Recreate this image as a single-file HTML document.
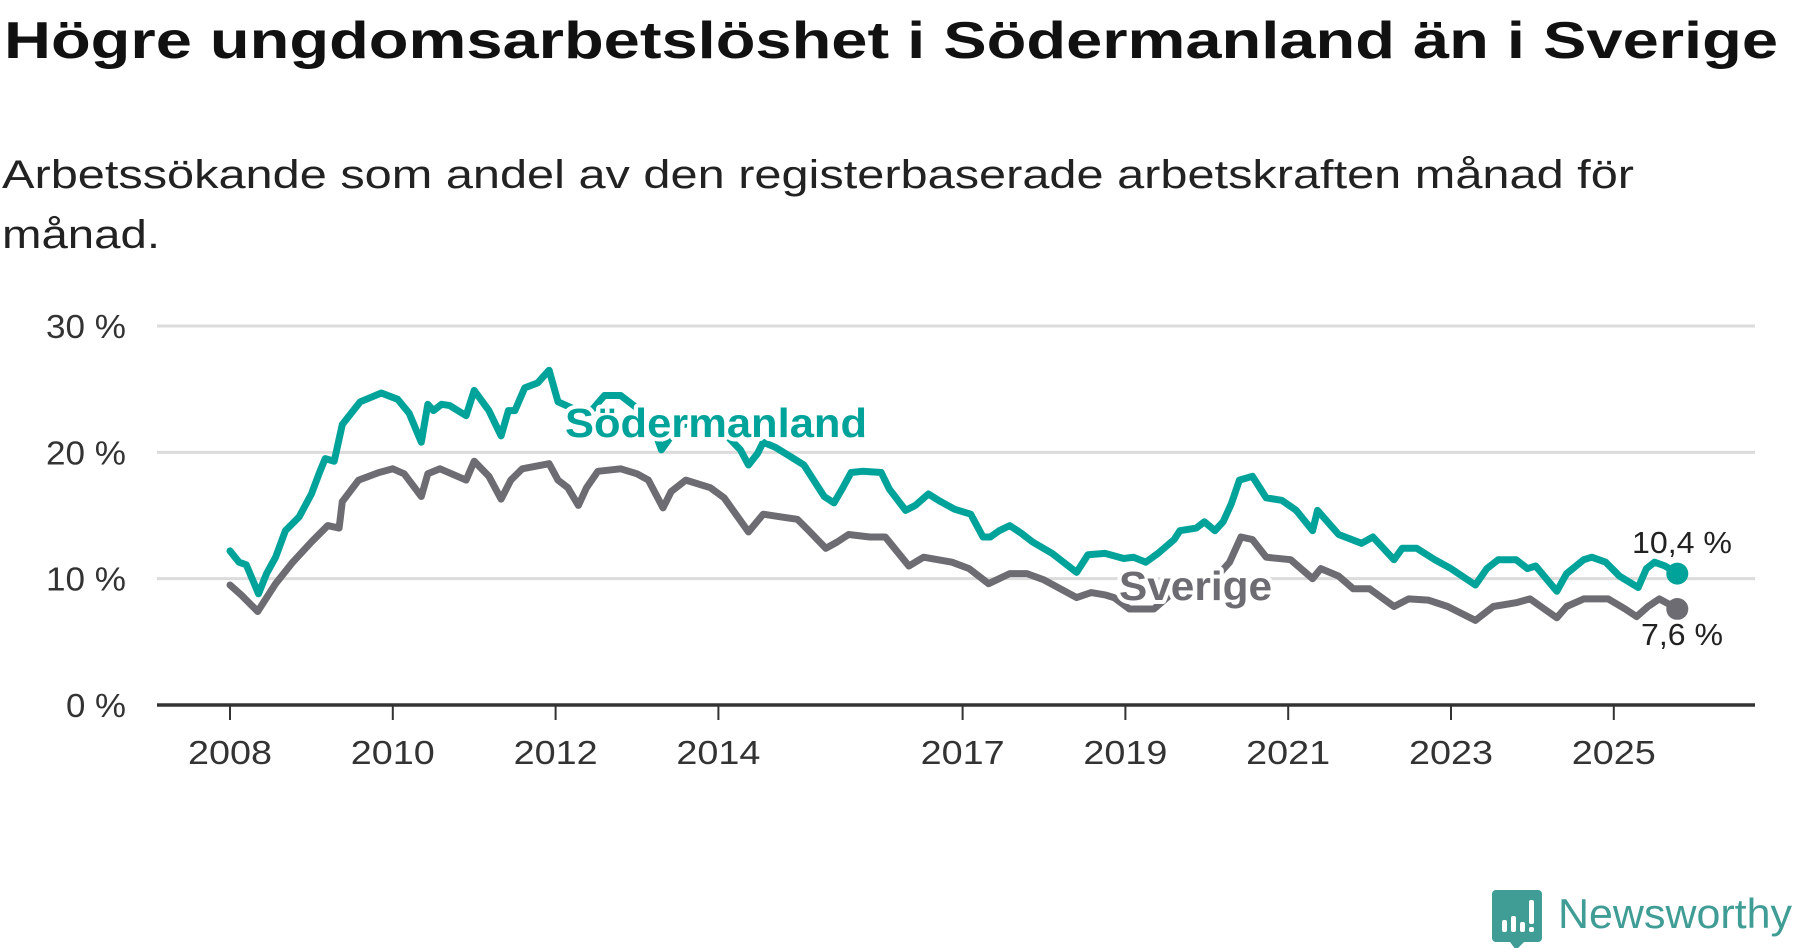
<!DOCTYPE html>
<html><head><meta charset="utf-8"><style>
html,body{margin:0;padding:0;background:#fff;}
svg{display:block;}
text{font-family:"Liberation Sans",sans-serif;}
</style></head><body>
<svg id="chart" width="1800" height="948" viewBox="0 0 1800 948">
<text x="4" y="58" font-size="52" font-weight="bold" fill="#111" textLength="1774" lengthAdjust="spacingAndGlyphs">Högre ungdomsarbetslöshet i Södermanland än i Sverige</text>
<text x="2" y="188" font-size="40" fill="#222" textLength="1632" lengthAdjust="spacingAndGlyphs">Arbetssökande som andel av den registerbaserade arbetskraften månad för</text>
<text x="2" y="248" font-size="40" fill="#222" textLength="158" lengthAdjust="spacingAndGlyphs">månad.</text>
<g id="grid"></g><g id="xaxis"></g><g id="lines"></g><g id="labels"></g>
<g>
<path d="M1496 890 h42 a4 4 0 0 1 4 4 v44 a4 4 0 0 1 -4 4 h-14 l-8 8 l-6 -8 h-14 a4 4 0 0 1 -4 -4 v-44 a4 4 0 0 1 4 -4z" fill="#3f9d95"/>
<rect x="1502" y="920" width="5" height="12" rx="2" fill="#fff"/>
<rect x="1511" y="916" width="5" height="16" rx="2" fill="#fff"/>
<rect x="1520" y="922" width="5" height="10" rx="2" fill="#fff"/>
<rect x="1529" y="900" width="5" height="24" rx="2" fill="#fff"/>
<rect x="1529" y="927" width="5" height="5" rx="2" fill="#fff"/>
<text x="1558" y="928" font-size="42" fill="#3f9d95" textLength="234" lengthAdjust="spacingAndGlyphs">Newsworthy</text>
</g>
</svg>
<script>
const yTicks=[0,10,20,30];
const yTickLabels=["0 %","10 %","20 %","30 %"];
const xTicks=[2008,2010,2012,2014,2017,2019,2021,2023,2025];
const sodT=[2008.0,2008.11,2008.2,2008.35,2008.45,2008.56,2008.68,2008.85,2009.0,2009.1,2009.17,2009.28,2009.38,2009.6,2009.86,2010.06,2010.2,2010.35,2010.43,2010.5,2010.6,2010.7,2010.9,2011.0,2011.18,2011.33,2011.42,2011.5,2011.62,2011.78,2011.92,2012.03,2012.2,2012.4,2012.6,2012.8,2013.0,2013.2,2013.3,2013.5,2013.7,2014.0,2014.27,2014.37,2014.48,2014.55,2014.7,2014.9,2015.05,2015.3,2015.42,2015.52,2015.63,2015.77,2016.0,2016.1,2016.3,2016.42,2016.58,2016.73,2016.9,2017.1,2017.25,2017.34,2017.45,2017.58,2017.72,2017.86,2018.1,2018.4,2018.54,2018.75,2018.98,2019.1,2019.25,2019.4,2019.6,2019.67,2019.87,2019.97,2020.1,2020.2,2020.3,2020.4,2020.56,2020.73,2020.92,2021.1,2021.3,2021.36,2021.62,2021.9,2022.04,2022.3,2022.4,2022.58,2022.8,2023.0,2023.3,2023.44,2023.58,2023.8,2023.94,2024.04,2024.3,2024.42,2024.63,2024.73,2024.9,2025.07,2025.3,2025.4,2025.5,2025.63,2025.78];
const sodV=[12.2,11.3,11.1,8.8,10.4,11.7,13.8,14.9,16.7,18.4,19.5,19.3,22.2,24.0,24.7,24.2,23.1,20.8,23.8,23.3,23.8,23.7,22.9,24.9,23.3,21.3,23.3,23.3,25.1,25.5,26.5,24.0,23.5,23.0,24.5,24.5,23.5,22.0,20.2,22.0,22.5,22.0,20.2,19.0,19.9,20.8,20.4,19.6,19.0,16.5,16.0,17.1,18.4,18.5,18.4,17.1,15.4,15.8,16.7,16.1,15.5,15.1,13.3,13.3,13.8,14.2,13.6,12.9,12.0,10.5,11.9,12.0,11.6,11.7,11.3,12.0,13.1,13.8,14.0,14.5,13.8,14.5,15.9,17.8,18.1,16.4,16.2,15.4,13.8,15.4,13.5,12.8,13.3,11.5,12.4,12.4,11.5,10.8,9.5,10.8,11.5,11.5,10.8,11.0,9.0,10.4,11.5,11.7,11.3,10.2,9.3,10.8,11.3,11.0,10.4];
const sveT=[2008.0,2008.14,2008.34,2008.45,2008.56,2008.77,2009.0,2009.2,2009.34,2009.38,2009.58,2009.83,2010.0,2010.14,2010.35,2010.43,2010.58,2010.9,2011.0,2011.18,2011.33,2011.45,2011.59,2011.92,2012.03,2012.15,2012.28,2012.38,2012.52,2012.8,2013.0,2013.14,2013.32,2013.42,2013.6,2013.9,2014.07,2014.18,2014.37,2014.55,2014.76,2014.97,2015.11,2015.32,2015.46,2015.6,2015.86,2016.05,2016.34,2016.52,2016.87,2017.08,2017.32,2017.58,2017.79,2018.0,2018.4,2018.58,2018.76,2018.86,2019.05,2019.35,2019.6,2019.9,2020.1,2020.28,2020.42,2020.56,2020.73,2021.03,2021.3,2021.4,2021.62,2021.8,2022.0,2022.3,2022.48,2022.72,2022.96,2023.3,2023.52,2023.8,2023.97,2024.08,2024.3,2024.42,2024.63,2024.93,2025.14,2025.28,2025.42,2025.56,2025.7,2025.78];
const sveV=[9.5,8.7,7.4,8.5,9.6,11.3,12.9,14.2,14.0,16.1,17.8,18.4,18.7,18.3,16.5,18.3,18.7,17.8,19.3,18.1,16.3,17.8,18.7,19.1,17.8,17.2,15.8,17.2,18.5,18.7,18.3,17.8,15.6,16.9,17.8,17.2,16.4,15.4,13.7,15.1,14.9,14.7,13.8,12.4,12.9,13.5,13.3,13.3,11.0,11.7,11.3,10.8,9.6,10.4,10.4,9.9,8.5,8.9,8.7,8.5,7.6,7.6,9.0,9.5,10.0,11.3,13.3,13.1,11.7,11.5,10.0,10.8,10.2,9.2,9.2,7.8,8.4,8.3,7.8,6.7,7.8,8.1,8.4,7.9,6.9,7.8,8.4,8.4,7.6,7.0,7.8,8.4,7.9,7.6];
const NS='http://www.w3.org/2000/svg';
const X0=157,X1=1755,Y0=705,Y30=326;
function xs(t){return 230+(t-2008)*81.4;}
function ys(v){return Y0-(v/30)*(Y0-Y30);}
function mk(tag,attrs,parent){const e=document.createElementNS(NS,tag);for(const k in attrs)e.setAttribute(k,attrs[k]);parent.appendChild(e);return e;}
const grid=document.getElementById('grid');
yTicks.forEach((v,i)=>{
 if(v>0){const l=mk('line',{x1:X0,x2:X1,y1:ys(v),y2:ys(v),stroke:'#dcdcdc','stroke-width':3},grid);
 
 }
 const w=v===0?60:80;
 const t=mk('text',{x:126,y:ys(v)+12,'text-anchor':'end','font-size':33,fill:'#333',textLength:w,lengthAdjust:'spacingAndGlyphs'},grid);
 t.textContent=yTickLabels[i];
 
 
});
const xa=document.getElementById('xaxis');
const ax=mk('line',{x1:X0,x2:X1,y1:Y0,y2:Y0,stroke:'#333','stroke-width':3.5},xa);


xTicks.forEach(y=>{
 const tk=mk('line',{x1:xs(y),x2:xs(y),y1:Y0,y2:Y0+15,stroke:'#333','stroke-width':2},xa);
 
 
 const t=mk('text',{x:xs(y),y:764,'text-anchor':'middle','font-size':33,fill:'#333',textLength:84,lengthAdjust:'spacingAndGlyphs'},xa);
 t.textContent=String(y);
 
 
});
const lines=document.getElementById('lines');
function draw(T,V,color,name){
 const d=T.map((t,i)=>(i?'L':'M')+xs(t).toFixed(1)+' '+ys(V[i]).toFixed(1)).join(' ');
 const p=mk('path',{d:d,fill:'none',stroke:color,'stroke-width':7,'stroke-linejoin':'round','stroke-linecap':'round'},lines);
 
 
 const c=mk('circle',{cx:xs(T[T.length-1]),cy:ys(V[V.length-1]),r:11,fill:color},lines);
 
 
}
draw(sveT,sveV,'#6d6c72','sverige');
draw(sodT,sodV,'#00a39a','sodermanland');
const lb=document.getElementById('labels');
function label(txt,x,y,color,name,size,weight,anchor,len){
 const t=mk('text',{x:x,y:y,'font-size':size,'font-weight':weight,fill:color,stroke:'#fff','stroke-width':8,'paint-order':'stroke','stroke-linejoin':'round','text-anchor':anchor,textLength:len,lengthAdjust:'spacingAndGlyphs'},lb);
 t.textContent=txt;
 
 
}
label('Södermanland',716,437,'#00a39a','sodermanland-label',41,'bold','middle',302);
label('Sverige',1119,600,'#6d6c72','sverige-label',41,'bold','start',153);
label('10,4 %',1682,553,'#222','sodermanland-end-value',31,'normal','middle',100);
label('7,6 %',1682,645,'#222','sverige-end-value',31,'normal','middle',82);
</script>
</body></html>
